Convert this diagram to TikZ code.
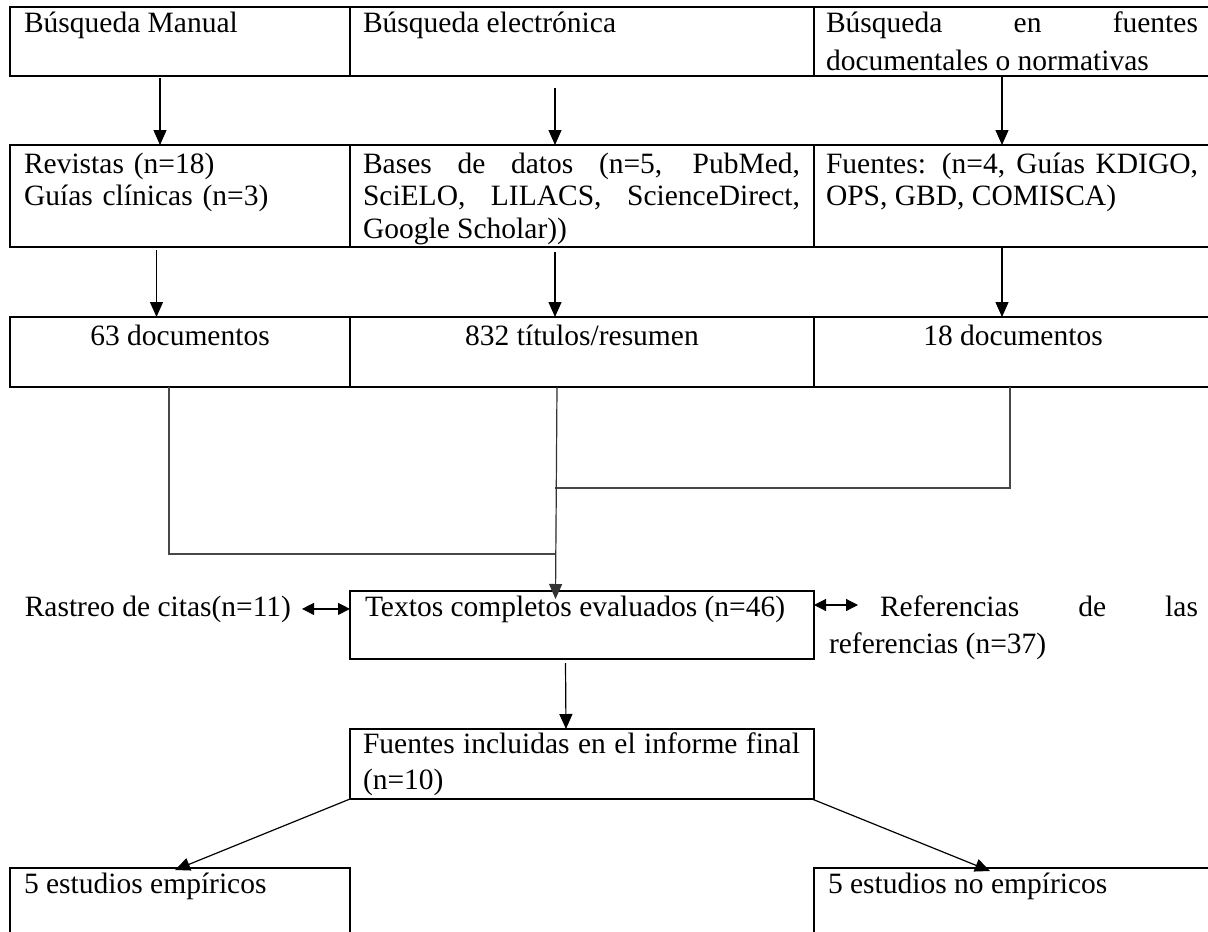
\documentclass[tikz,border=0pt]{standalone}
\usepackage{fontspec}
\setmainfont{Liberation Serif}
\usetikzlibrary{arrows.meta}
\tolerance=10000
\hbadness=10000
\begin{document}
\begin{tikzpicture}[x=1pt,y=-1pt,
  box/.style={draw=black, line width=2.2pt, inner sep=0pt, outer sep=0pt, anchor=north west},
  txt/.style={inner sep=0pt, outer sep=0pt, anchor=base west, font=\fontsize{29.5}{34}\selectfont},
  ctxt/.style={inner sep=0pt, outer sep=0pt, anchor=base, font=\fontsize{29.5}{34}\selectfont},
  arr/.style={draw=black, line width=1.2pt, -{Triangle[length=15pt,width=13pt]}},
  dbl/.style={draw=black, line width=1.2pt, {Triangle[length=12pt,width=12pt]}-{Triangle[length=12pt,width=12pt]}},
  conn/.style={draw=black!72, line width=1.4pt}
]
\path[use as bounding box] (0,0) rectangle (1208,932);
\clip (0,0) rectangle (1208,932);

% boxes
\node[box, minimum width=340pt, minimum height=69pt] (m1) at (10,7) {};
\node[box, minimum width=464pt, minimum height=69pt] (m2) at (350,7) {};
\node[box, minimum width=398pt, minimum height=69pt] (m3) at (814,7) {};
\node[box, minimum width=340pt, minimum height=102pt] (r1) at (10,145) {};
\node[box, minimum width=464pt, minimum height=102pt] (r2) at (350,145) {};
\node[box, minimum width=398pt, minimum height=102pt] (r3) at (814,145) {};
\node[box, minimum width=340pt, minimum height=70pt] (c1) at (10,317) {};
\node[box, minimum width=464pt, minimum height=70pt] (c2) at (350,317) {};
\node[box, minimum width=398pt, minimum height=70pt] (c3) at (814,317) {};
\node[box, minimum width=464pt, minimum height=68pt] (tex) at (350,591) {};
\node[box, minimum width=464pt, minimum height=70pt] (fin) at (350,729) {};
\node[box, minimum width=340pt, minimum height=150pt] (e1) at (10,868) {};
\node[box, minimum width=398pt, minimum height=150pt] (e2) at (814,868) {};

% texts
\node[txt] (tm1) at (24,32) {Búsqueda Manual};
\node[txt] (tm2) at (363,32) {Búsqueda electrónica};
\node[txt, text width=372pt, align=justify, font=\fontsize{29.5}{38}\selectfont] (tm3) at (826,32)
  {Búsqueda en fuentes\linebreak documentales o normativas};
\node[txt, text width=320pt, align=left, font=\fontsize{29.5}{32}\selectfont] (tr1) at (24,173)
  {Revistas (n=18)\\Guías clínicas (n=3)};
\node[txt, text width=437pt, align=justify, font=\fontsize{29.5}{32.5}\selectfont] (tr2) at (363,173)
  {Bases de datos (n=5, PubMed,\linebreak SciELO, LILACS, ScienceDirect,\linebreak Google Scholar))};
\node[txt, text width=372pt, align=justify, font=\fontsize{29.5}{32.5}\selectfont] (tr3) at (826,173)
  {Fuentes: (n=4, Guías KDIGO,\linebreak OPS, GBD, COMISCA)};
\node[ctxt] (tc1) at (180,345) {63 documentos};
\node[ctxt] (tc2) at (582,345) {832 títulos/resumen};
\node[ctxt] (tc3) at (1013,345) {18 documentos};
\node[txt] (ttex) at (365,616) {Textos completos evaluados (n=46)};
\node[txt, anchor=base east] (ras) at (291,616) {Rastreo de citas(n=11)};
\node[txt, text width=369pt, align=justify, font=\fontsize{29.5}{37}\selectfont] (ref) at (829,616)
  {\hspace*{51pt}Referencias de las\linebreak referencias (n=37)};
\node[txt, text width=437pt, align=justify, font=\fontsize{29.5}{36}\selectfont] (tfin) at (363,753)
  {Fuentes incluidas en el informe final\linebreak (n=10)};
\node[txt] (te1) at (24,893) {5 estudios empíricos};
\node[txt] (te2) at (828,893) {5 estudios no empíricos};

% arrows row1 -> row2
\draw[arr] ([xshift=150pt,yshift=-2pt]m1.south west) -- ([xshift=150pt]r1.north west);
\draw[arr] ([xshift=205pt,yshift=-12pt]m2.south west) -- ([xshift=205pt]r2.north west);
\draw[arr] ([xshift=188pt]m3.south west) -- ([xshift=188pt]r3.north west);
% arrows row2 -> row3
\draw[arr] ([xshift=146.5pt,yshift=-3pt]r1.south west) -- ([xshift=146.5pt]c1.north west);
\draw[arr] ([xshift=205pt,yshift=-5pt]r2.south west) -- ([xshift=205pt]c2.north west);
\draw[arr] ([xshift=188pt]r3.south west) -- ([xshift=188pt]c3.north west);

% merge connectors
\coordinate (j1) at (555,554);
\coordinate (j3) at (555,488);
\draw[conn] ([xshift=159pt]c1.south west) |- (j1);
\draw[conn] ([xshift=196pt]c3.south west) |- (j3);
\draw[arr, draw=black!80, fill=black] ([xshift=207pt]c2.south west) -- ([xshift=205.5pt,yshift=-8pt]tex.north west);

% side double arrows
\coordinate (rr) at (858,605);
\draw[dbl] ([xshift=11pt]ras.east) -- (ras.east -| tex.west);
\draw[dbl] ([yshift=-14pt]tex.north east) -- (rr);

% textos -> fuentes
\draw[arr] ([xshift=215.5pt,yshift=-4pt]tex.south west) -- ([xshift=216pt]fin.north west);

% fuentes -> bottom boxes
\draw[arr] (fin.south west) -- ([xshift=165pt,yshift=-2pt]e1.north west);
\draw[arr] ([xshift=-2pt]fin.south east) -- ([xshift=176pt,yshift=-3pt]e2.north west);
\end{tikzpicture}
\end{document}
